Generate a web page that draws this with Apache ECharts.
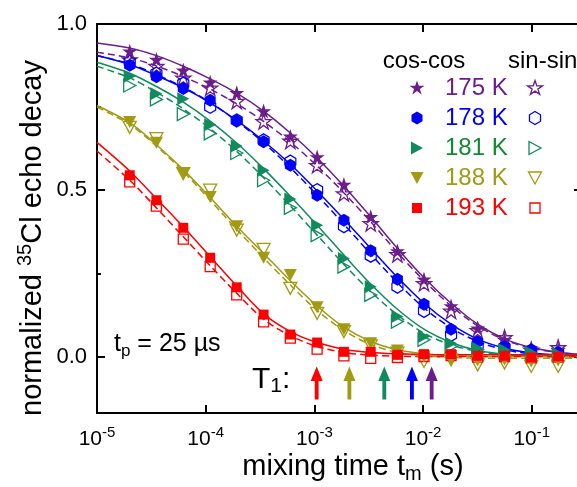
<!DOCTYPE html>
<html>
<head>
<meta charset="utf-8">
<script src="https://cdn.jsdelivr.net/npm/echarts@6/dist/echarts.min.js"></script>
<style>
  html, body { margin: 0; padding: 0; background: #fff; }
  #chart { width: 577px; height: 487px; }
</style>
</head>
<body>
<div id="chart"></div>
<script>
// mixing times of the measured points (s)
var tm = [2.0e-5, 3.52e-5, 6.22e-5, 1.10e-4, 1.93e-4, 3.41e-4, 6.01e-4, 1.06e-3, 1.87e-3,
  3.30e-3, 5.81e-3, 1.02e-2, 1.81e-2, 3.18e-2, 5.62e-2, 9.9e-2, 0.175];
// x positions read for the fit curves (left edge, every point, right edge)
var fitT = [1e-5, 2.0e-5, 3.52e-5, 6.22e-5, 1.10e-4, 1.93e-4, 3.41e-4, 6.01e-4, 1.06e-3, 1.87e-3,
  3.30e-3, 5.81e-3, 1.02e-2, 1.81e-2, 3.18e-2, 5.62e-2, 9.9e-2, 0.175, 0.29];

var temps = ['175 K', '178 K', '181 K', '188 K', '193 K'];
var colors = ['#6b1d8c', '#0000ff', '#118a5e', '#a19a12', '#ff0000'];
var textColors = ['#6b1d8c', '#0000ff', '#108a30', '#a19a12', '#ff0000'];

// cos-cos (filled) and sin-sin (open) echo decay
var cos175 = [0.918, 0.893, 0.861, 0.825, 0.793, 0.738, 0.662, 0.600, 0.517, 0.420, 0.317, 0.232, 0.152, 0.085, 0.050, 0.025, 0.020];
var sin175 = [0.893, 0.873, 0.838, 0.808, 0.768, 0.707, 0.648, 0.575, 0.490, 0.400, 0.307, 0.220, 0.137, 0.078, 0.057, 0.020, 0.027];
var cos178 = [0.876, 0.841, 0.806, 0.771, 0.709, 0.646, 0.575, 0.485, 0.410, 0.318, 0.232, 0.157, 0.082, 0.044, 0.030, 0.020, 0.012];
var sin178 = [0.886, 0.851, 0.821, 0.751, 0.710, 0.650, 0.586, 0.500, 0.392, 0.303, 0.210, 0.137, 0.065, 0.035, 0.027, 0.017, 0.010];
var cos181 = [0.843, 0.790, 0.775, 0.697, 0.633, 0.560, 0.474, 0.395, 0.295, 0.210, 0.120, 0.060, 0.040, 0.025, 0.020, 0.012, 0.008];
var sin181 = [0.815, 0.773, 0.729, 0.671, 0.612, 0.530, 0.447, 0.365, 0.270, 0.185, 0.105, 0.050, 0.030, 0.020, 0.015, 0.008, 0.005];
var cos188 = [0.705, 0.643, 0.552, 0.480, 0.392, 0.297, 0.245, 0.148, 0.082, 0.040, 0.018, 0.000, -0.010, -0.012, -0.010, -0.015, -0.012];
var sin188 = [0.689, 0.655, 0.550, 0.500, 0.380, 0.322, 0.205, 0.130, 0.075, 0.032, 0.010, -0.015, -0.010, -0.025, -0.020, -0.030, -0.030];
var cos193 = [0.545, 0.470, 0.387, 0.297, 0.208, 0.126, 0.066, 0.042, 0.014, 0.014, 0.005, 0.007, 0.007, 0.002, 0.002, -0.003, 0.000];
var sin193 = [0.525, 0.452, 0.353, 0.270, 0.185, 0.104, 0.055, 0.022, 0.002, -0.006, -0.003, 0.000, 0.003, -0.002, 0.000, -0.004, -0.002];

// fit curves, read at fitT
var fitCos175 = [0.943, 0.928, 0.905, 0.873, 0.835, 0.792, 0.738, 0.672, 0.597, 0.512, 0.420, 0.325, 0.237, 0.160, 0.097, 0.053, 0.027, 0.013, 0.006];
var fitSin175 = [0.915, 0.898, 0.874, 0.842, 0.804, 0.760, 0.707, 0.645, 0.573, 0.492, 0.405, 0.313, 0.228, 0.152, 0.092, 0.050, 0.025, 0.012, 0.006];
var fitCos178 = [0.905, 0.878, 0.845, 0.808, 0.763, 0.710, 0.648, 0.578, 0.498, 0.413, 0.325, 0.238, 0.160, 0.097, 0.052, 0.025, 0.011, 0.004, 0.002];
var fitSin178 = [0.905, 0.880, 0.848, 0.810, 0.764, 0.708, 0.643, 0.568, 0.485, 0.398, 0.308, 0.222, 0.146, 0.086, 0.045, 0.020, 0.008, 0.003, 0.001];
var fitCos181 = [0.885, 0.852, 0.812, 0.765, 0.708, 0.642, 0.565, 0.482, 0.395, 0.305, 0.218, 0.142, 0.082, 0.042, 0.018, 0.007, 0.002, 0.000, 0.000];
var fitSin181 = [0.873, 0.838, 0.795, 0.745, 0.685, 0.617, 0.538, 0.453, 0.365, 0.277, 0.195, 0.125, 0.070, 0.035, 0.015, 0.005, 0.001, 0.000, 0.000];
var fitCos188 = [0.755, 0.703, 0.637, 0.562, 0.478, 0.392, 0.310, 0.228, 0.152, 0.088, 0.045, 0.020, 0.008, 0.002, 0.000, 0.000, 0.000, 0.000, 0.000];
var fitSin188 = [0.750, 0.698, 0.633, 0.556, 0.470, 0.382, 0.297, 0.215, 0.138, 0.078, 0.036, 0.012, 0.002, -0.003, -0.005, -0.005, -0.005, -0.005, -0.005];
var fitCos193 = [0.644, 0.558, 0.475, 0.390, 0.300, 0.212, 0.128, 0.075, 0.042, 0.022, 0.012, 0.008, 0.006, 0.005, 0.005, 0.005, 0.005, 0.005, 0.005];
var fitSin193 = [0.618, 0.530, 0.447, 0.360, 0.273, 0.190, 0.112, 0.062, 0.030, 0.012, 0.004, 0.001, 0.000, 0.000, 0.000, 0.000, 0.000, 0.000, 0.000];

// T1 arrows (s), same order as temps
var t1Values = [1.2e-2, 7.9e-3, 4.4e-3, 2.1e-3, 1.05e-3];
var arrowLevel = -0.08;

var yTicks = [0, 0.5, 1.0];
var yMinorTicks = [0.25, 0.75];

var cosData = [cos175, cos178, cos181, cos188, cos193];
var sinData = [sin175, sin178, sin181, sin188, sin193];
var fitCos = [fitCos175, fitCos178, fitCos181, fitCos188, fitCos193];
var fitSin = [fitSin175, fitSin178, fitSin181, fitSin188, fitSin193];

var FONT = '"Liberation Sans", Arial, sans-serif';

// marker outlines in a 100x100 box
var shapes = {
  star: [[50,0],[61.8,35.4],[100,35.4],[69.1,57.3],[80.9,92.7],[50,70.8],[19.1,92.7],[30.9,57.3],[0,35.4],[38.2,35.4]],
  hex: [[50,0],[100,25],[100,75],[50,100],[0,75],[0,25]],
  right: [[0,0],[100,50],[0,100]],
  down: [[0,0],[100,0],[50,100]],
  square: [[0,0],[100,0],[100,100],[0,100]]
};
var markShape = ['star', 'hex', 'right', 'down', 'square'];
var markSize = [[15, 15], [11, 13], [12, 13], [13, 12], [10, 10]];

function toPath(p) {
  return 'path://' + p.map(function (q, i) { return (i ? 'L' : 'M') + q[0] + ',' + q[1]; }).join(' ') + ' Z';
}
function legendPoly(p, cx, cy, w, h) {
  return p.map(function (q) { return [cx + (q[0] / 100 - 0.5) * w, cy + (q[1] / 100 - 0.5) * h]; });
}
function pairs(xs, ys) {
  return xs.map(function (x, i) { return [x, ys[i]]; });
}

var series = [];
for (var i = 0; i < temps.length; i++) {
  var c = colors[i];
  series.push({
    name: temps[i] + ' fit cos', type: 'line', data: pairs(fitT, fitCos[i]),
    showSymbol: false, symbol: 'none', smooth: 0.3, z: 2,
    lineStyle: { color: c, width: 1.5 }
  });
  series.push({
    name: temps[i] + ' fit sin', type: 'line', data: pairs(fitT, fitSin[i]),
    showSymbol: false, symbol: 'none', smooth: 0.3, z: 2,
    lineStyle: { color: c, width: 1.5, type: [7, 4] }
  });
  series.push({
    name: temps[i] + ' sin-sin', type: 'scatter', data: pairs(tm, sinData[i]), z: 3,
    symbol: toPath(shapes[markShape[i]]), symbolSize: markSize[i],
    itemStyle: { color: 'rgba(255,255,255,0)', borderColor: c, borderWidth: 1.3, opacity: 1 }
  });
  series.push({
    name: temps[i] + ' cos-cos', type: 'scatter', data: pairs(tm, cosData[i]), z: 4,
    symbol: toPath(shapes[markShape[i]]), symbolSize: markSize[i],
    itemStyle: { color: c, opacity: 1 }
  });
}
series.push({
  name: 'T1', type: 'scatter', z: 5,
  symbol: 'path://M5,0 L10,14 L6.6,14 L6.6,32 L3.4,32 L3.4,14 L0,14 Z',
  symbolSize: [12, 33],
  itemStyle: { opacity: 1 },
  data: t1Values.map(function (t, k) {
    return { value: [t, arrowLevel], itemStyle: { color: colors[k], opacity: 1 } };
  })
});

// legend drawn as graphics
var graphics = [];
var rowY = [88, 118, 148, 178, 208];
graphics.push({ type: 'text', x: 424, y: 61, style: { text: 'cos-cos', font: '24px ' + FONT, fill: '#000', align: 'center', verticalAlign: 'middle', textAlign: 'center', textVerticalAlign: 'middle' } });
graphics.push({ type: 'text', x: 508, y: 61, style: { text: 'sin-sin', font: '24px ' + FONT, fill: '#000', align: 'left', verticalAlign: 'middle', textAlign: 'left', textVerticalAlign: 'middle' } });
for (var k = 0; k < temps.length; k++) {
  var sz = markSize[k], sh = shapes[markShape[k]];
  graphics.push({ type: 'polygon', shape: { points: legendPoly(sh, 417, rowY[k], sz[0], sz[1]) }, style: { fill: colors[k] } });
  graphics.push({ type: 'polygon', shape: { points: legendPoly(sh, 535, rowY[k], sz[0], sz[1]) }, style: { fill: 'none', stroke: colors[k], lineWidth: 1.3 } });
  graphics.push({ type: 'text', x: 445, y: rowY[k], style: { text: temps[k], font: '24px ' + FONT, fill: textColors[k], align: 'left', verticalAlign: 'middle', textAlign: 'left', textVerticalAlign: 'middle' } });
}
// annotations and axis titles
graphics.push({ type: 'text', x: 114, y: 346, style: {
  text: '{n|t}{s|p}{n| = 25 \u00b5s}', fill: '#000', align: 'left', verticalAlign: 'middle', textAlign: 'left', textVerticalAlign: 'middle',
  rich: { n: { fontSize: 25, fontFamily: FONT, lineHeight: 28, verticalAlign: 'top' }, s: { fontSize: 17, fontFamily: FONT, lineHeight: 17, verticalAlign: 'bottom' } }
} });
graphics.push({ type: 'text', x: 252, y: 381, style: {
  text: '{n|T}{s|1}{n|:}', fill: '#000', align: 'left', verticalAlign: 'middle', textAlign: 'left', textVerticalAlign: 'middle',
  rich: { n: { fontSize: 30, fontFamily: FONT, lineHeight: 32, verticalAlign: 'top' }, s: { fontSize: 21, fontFamily: FONT, lineHeight: 21, verticalAlign: 'bottom' } }
} });
graphics.push({ type: 'text', x: 353, y: 468, style: {
  text: '{n|mixing time t}{s|m}{n| (s)}', fill: '#000', align: 'center', verticalAlign: 'middle', textAlign: 'center', textVerticalAlign: 'middle',
  rich: { n: { fontSize: 29, fontFamily: FONT, lineHeight: 32, verticalAlign: 'top' }, s: { fontSize: 20, fontFamily: FONT, lineHeight: 20, verticalAlign: 'bottom' } }
} });
graphics.push({ type: 'text', x: 31, y: 238, rotation: Math.PI / 2, style: {
  text: '{n|normalized }{p|35}{n|Cl echo decay}', fill: '#000', align: 'center', verticalAlign: 'middle', textAlign: 'center', textVerticalAlign: 'middle',
  rich: { n: { fontSize: 29, fontFamily: FONT, lineHeight: 32, verticalAlign: 'bottom' }, p: { fontSize: 20, fontFamily: FONT, lineHeight: 20, verticalAlign: 'top' } }
} });

var axisLineStyle = { color: '#000', width: 2 };
var xMin = 1e-5, xMax = 0.29, yMin = -0.17, yMax = 1.0;

var chart = echarts.init(document.getElementById('chart'), null, { renderer: 'canvas' });
chart.setOption({
  animation: false,
  backgroundColor: '#fff',
  grid: { left: 97, right: -5, top: 24, bottom: 74, containLabel: false, outerBoundsMode: 'none' },
  xAxis: [{
    type: 'log', logBase: 10, min: xMin, max: xMax, position: 'bottom',
    axisLine: { onZero: false, lineStyle: axisLineStyle },
    axisTick: { inside: true, length: 8, lineStyle: { color: '#000', width: 2 } },
    minorTick: { show: false },
    splitLine: { show: false },
    axisLabel: {
      margin: 12, showMaxLabel: false, color: '#000',
      formatter: function (v) {
        var e = Math.round(Math.log10(v));
        if (Math.abs(Math.log10(v) - e) > 1e-6) return '';
        return '{b|10}{s|' + e + '}';
      },
      rich: {
        b: { fontSize: 21, fontFamily: FONT, color: '#000', lineHeight: 28 },
        s: { fontSize: 15, fontFamily: FONT, color: '#000', lineHeight: 16, verticalAlign: 'top' }
      }
    }
  }, {
    type: 'log', logBase: 10, min: xMin, max: xMax, position: 'top',
    axisLine: { onZero: false, lineStyle: axisLineStyle },
    axisTick: { inside: true, length: 8, lineStyle: { color: '#000', width: 2 } },
    splitLine: { show: false }, axisLabel: { show: false }
  }],
  yAxis: [{
    type: 'value', min: yMin, max: yMax, position: 'left',
    axisLine: { show: true, onZero: false, lineStyle: axisLineStyle },
    axisTick: { inside: true, length: 8, customValues: yTicks, lineStyle: { color: '#000', width: 2 } },
    splitLine: { show: false },
    axisLabel: {
      customValues: yTicks, margin: 10, color: '#000', fontSize: 22, fontFamily: FONT,
      formatter: function (v) { return v.toFixed(1); }
    }
  }, {
    type: 'value', min: yMin, max: yMax, position: 'right',
    axisLine: { show: true, onZero: false, lineStyle: axisLineStyle },
    axisTick: { inside: true, length: 8, customValues: yTicks, lineStyle: { color: '#000', width: 2 } },
    splitLine: { show: false }, axisLabel: { show: false }
  }, {
    type: 'value', min: yMin, max: yMax, position: 'left',
    axisLine: { show: false, onZero: false },
    axisTick: { inside: true, length: 4, customValues: yMinorTicks, lineStyle: { color: '#000', width: 2 } },
    splitLine: { show: false }, axisLabel: { show: false }
  }],
  series: series,
  graphic: graphics
});
</script>
</body>
</html>
